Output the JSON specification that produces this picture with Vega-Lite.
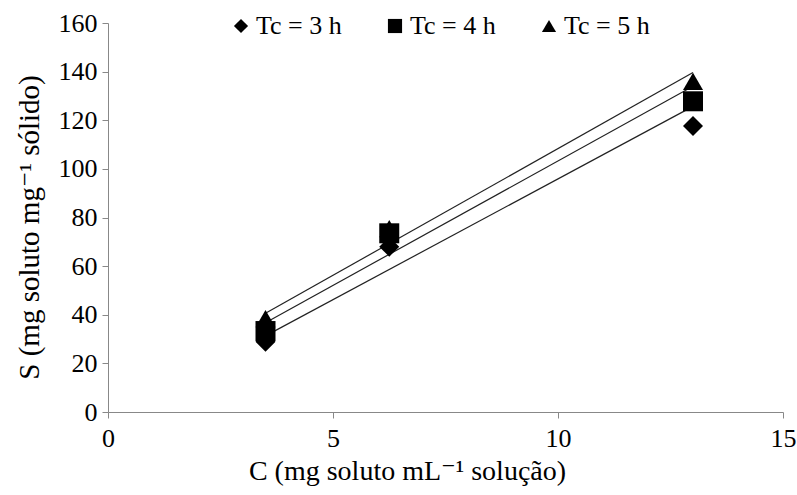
{
  "$schema": "https://vega.github.io/schema/vega-lite/v6.json",
  "autosize": "none",
  "width": 675,
  "height": 389,
  "padding": {"left": 108, "top": 23, "right": 14, "bottom": 83},
  "background": "white",
  "config": {
    "view": {"stroke": null},
    "font": "'Liberation Serif', 'DejaVu Serif', serif",
    "axis": {
      "grid": false,
      "domainColor": "#888888",
      "tickColor": "#888888",
      "tickSize": 6,
      "labelFont": "'Liberation Serif', 'DejaVu Serif', serif",
      "labelFontSize": 26,
      "labelColor": "#000000",
      "titleFont": "'Liberation Serif', 'DejaVu Serif', serif",
      "titleFontSize": 28,
      "titleFontWeight": "normal",
      "titleColor": "#000000"
    }
  },
  "datasets": {
    "points": [
      {"series": "Tc = 3 h", "C": 3.5, "S": 28.9},
      {"series": "Tc = 3 h", "C": 6.25, "S": 68},
      {"series": "Tc = 3 h", "C": 13.0, "S": 117.6},
      {"series": "Tc = 4 h", "C": 3.5, "S": 33.3},
      {"series": "Tc = 4 h", "C": 6.25, "S": 73.5},
      {"series": "Tc = 4 h", "C": 13.0, "S": 127.8},
      {"series": "Tc = 5 h", "C": 3.5, "S": 38.4},
      {"series": "Tc = 5 h", "C": 6.25, "S": 75.4},
      {"series": "Tc = 5 h", "C": 13.0, "S": 136.0}
    ],
    "trend": [
      {"series": "Tc = 3 h", "C": 3.5, "S": 31.3},
      {"series": "Tc = 3 h", "C": 13.0, "S": 125.7},
      {"series": "Tc = 4 h", "C": 3.5, "S": 36.7},
      {"series": "Tc = 4 h", "C": 13.0, "S": 134.0},
      {"series": "Tc = 5 h", "C": 3.5, "S": 40.6},
      {"series": "Tc = 5 h", "C": 13.0, "S": 139.6}
    ]
  },
  "encoding": {
    "x": {
      "field": "C", "type": "quantitative",
      "scale": {"domain": [0, 15], "nice": false},
      "axis": {
        "values": [0, 5, 10, 15],
        "labelPadding": 7,
        "labelFlush": false,
        "title": "C (mg soluto mL⁻¹ solução)",
        "titleX": 299,
        "titleY": 45
      }
    },
    "y": {
      "field": "S", "type": "quantitative",
      "scale": {"domain": [0, 160], "nice": false},
      "axis": {
        "values": [0, 20, 40, 60, 80, 100, 120, 140, 160],
        "labelPadding": 5,
        "title": "S (mg soluto mg⁻¹ sólido)",
        "titleFontSize": 29,
        "titleX": -64,
        "titleY": 204
      }
    }
  },
  "layer": [
    {
      "data": {"name": "trend"},
      "mark": {"type": "line", "color": "#222222", "strokeWidth": 1.2},
      "encoding": {"detail": {"field": "series"}}
    },
    {
      "data": {"name": "points"},
      "mark": {"type": "point", "filled": true, "color": "#000000", "opacity": 1, "size": 400},
      "encoding": {
        "shape": {
          "field": "series", "type": "nominal",
          "scale": {"domain": ["Tc = 3 h", "Tc = 4 h", "Tc = 5 h"], "range": ["diamond", "square", "triangle-up"]},
          "legend": {
            "title": null,
            "orient": "none",
            "direction": "horizontal",
            "legendX": 120,
            "legendY": -10,
            "padding": 0,
            "symbolSize": 200,
            "symbolFillColor": "#000000",
            "symbolStrokeColor": "#000000",
            "symbolStrokeWidth": 0,
            "labelFont": "'Liberation Serif', 'DejaVu Serif', serif",
            "labelFontSize": 26,
            "labelColor": "#000000",
            "labelOffset": 2,
            "columnPadding": 40
          }
        }
      }
    }
  ]
}
